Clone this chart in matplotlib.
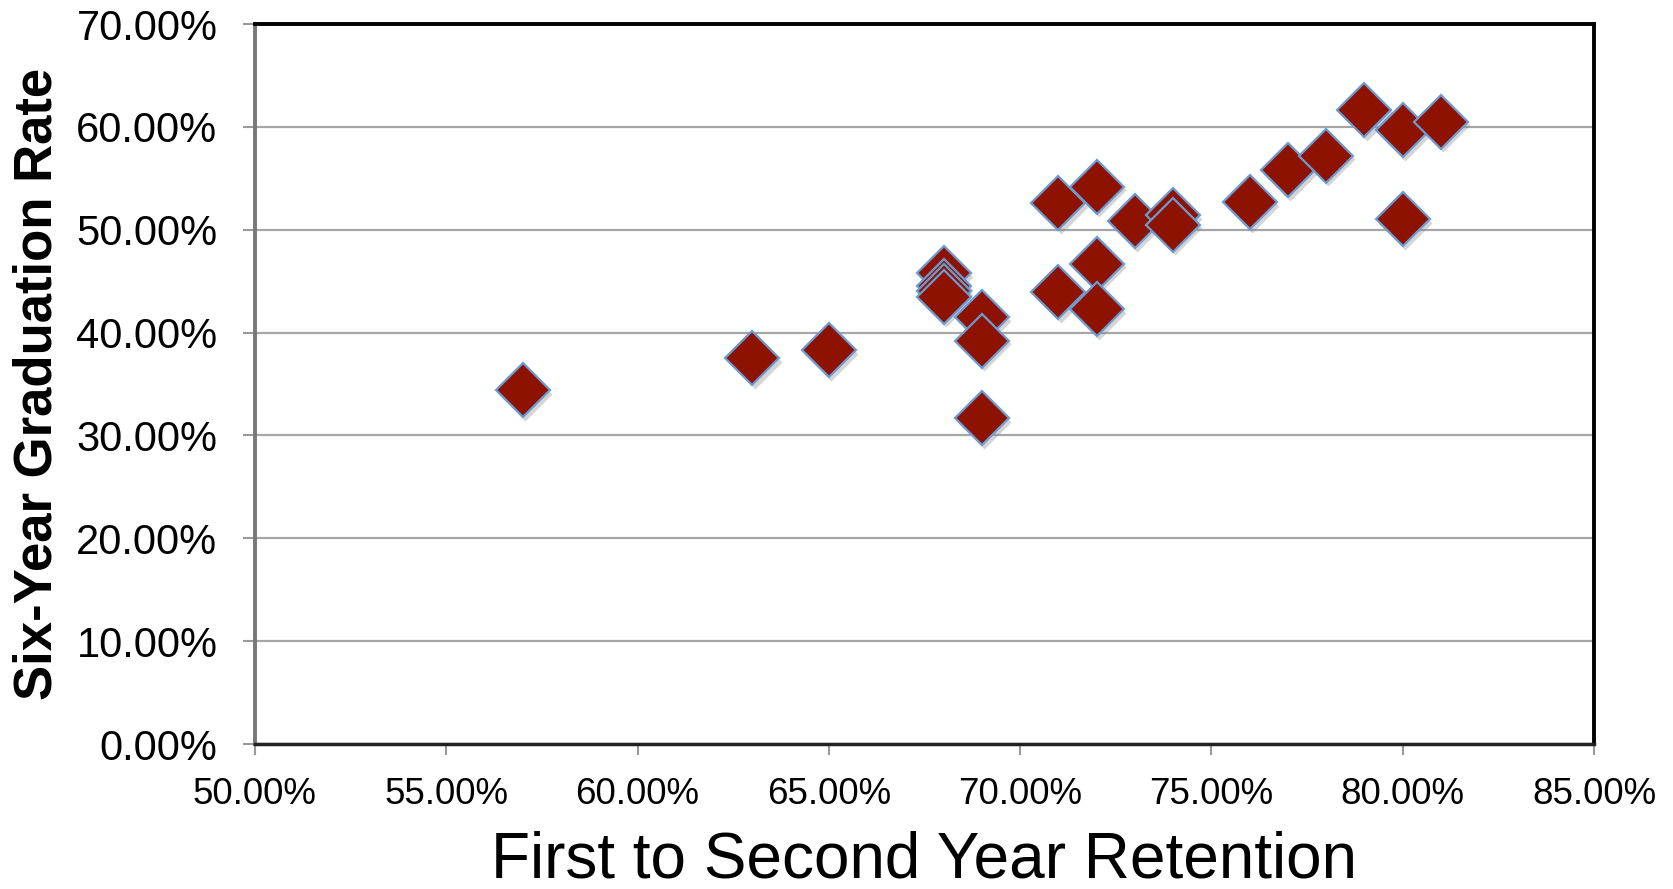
import matplotlib
matplotlib.use('Agg')
import matplotlib.pyplot as plt
from matplotlib.ticker import PercentFormatter, MultipleLocator

plt.rcParams['font.family'] = ['Liberation Sans', 'DejaVu Sans']

# Retention (x) and six-year graduation rate (y), in percent
retention = [57, 63, 65, 68, 68, 68, 68, 69, 69, 69, 71, 71, 72, 72, 72,
             73, 74, 74, 76, 77, 78, 79, 80, 80, 81]
grad_rate = [34.4, 37.5, 38.3, 45.8, 44.5, 44.0, 43.5, 41.5, 39.2, 31.7, 52.6, 43.9, 54.2, 46.7, 42.3,
             50.8, 51.4, 50.5, 52.7, 55.8, 57.2, 61.6, 59.7, 51.0, 60.5]

xlabel = 'First to Second Year Retention'
ylabel = 'Six-Year Graduation Rate'

fig = plt.figure(figsize=(16.74, 8.89), dpi=100)
ax = fig.add_axes([0.1523, 0.1631, 0.7999, 0.8099])

# gridlines
ax.set_axisbelow(True)
ax.yaxis.grid(True, color='#a6a6a6', linewidth=1.6)

# faint shadow then the diamonds
ax.plot([x + 0.06 for x in retention], [y - 0.35 for y in grad_rate], linestyle='None',
        marker='D', markersize=27, markerfacecolor='#888888', markeredgecolor='none', alpha=0.35)
ax.plot(retention, grad_rate, linestyle='None', marker='D', markersize=27,
        markerfacecolor='#8e1200', markeredgecolor='#6b9bd2', markeredgewidth=1.6)

ax.set_xlim(50, 85)
ax.set_ylim(0, 70)
ax.xaxis.set_major_locator(MultipleLocator(5))
ax.yaxis.set_major_locator(MultipleLocator(10))
ax.xaxis.set_major_formatter(PercentFormatter(decimals=2))
ax.yaxis.set_major_formatter(PercentFormatter(decimals=2))

ax.tick_params(axis='y', labelsize=30, length=9, width=1.5, color='#999999', pad=18)
ax.tick_params(axis='x', labelsize=26.5, length=8, width=1.5, color='#999999', pad=16)

for s in ['top', 'right']:
    ax.spines[s].set_color('black')
    ax.spines[s].set_linewidth(2.8)
ax.spines['bottom'].set_color('#222222')
ax.spines['bottom'].set_linewidth(2.5)
ax.spines['left'].set_color('#777777')
ax.spines['left'].set_linewidth(2.8)

ax.set_xlabel(xlabel, fontsize=46, labelpad=13)
ax.set_ylabel(ylabel, fontsize=38, fontweight='bold', labelpad=10)

fig.savefig('out.png', dpi=100)
